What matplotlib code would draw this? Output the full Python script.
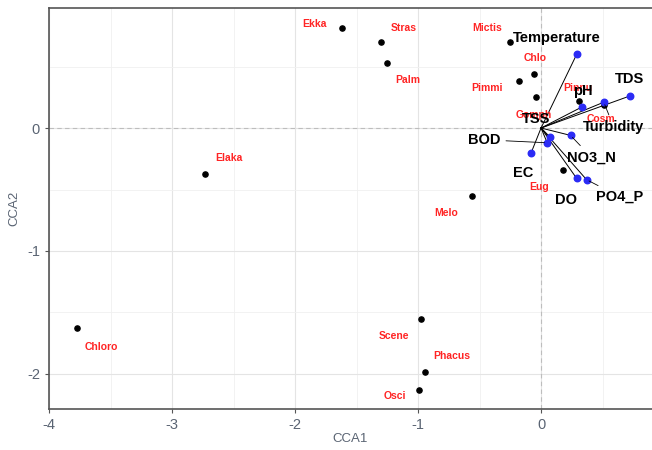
import matplotlib.pyplot as plt
from matplotlib.ticker import MultipleLocator

plt.rcParams['font.family'] = ['Liberation Sans', 'DejaVu Sans']
plt.rcParams['axes.unicode_minus'] = False

# species scores (black points, red labels)
species = ['Ekka', 'Stras', 'Palm', 'Mictis', 'Chlo', 'Pimmi', 'Gomph', 'Pinnu',
           'Cosm', 'Elaka', 'Melo', 'Eug', 'Chloro', 'Scene', 'Phacus', 'Osci']
sp_x = [-1.62, -1.30, -1.25, -0.25, -0.06, -0.18, -0.04, 0.31,
        0.51, -2.73, -0.56, 0.18, -3.77, -0.98, -0.94, -0.99]
sp_y = [0.81, 0.70, 0.53, 0.70, 0.44, 0.38, 0.25, 0.22,
        0.19, -0.37, -0.55, -0.34, -1.63, -1.55, -1.98, -2.13]

# environmental vectors (blue tips)
env = ['Temperature', 'TDS', 'Turbidity', 'pH', 'TSS', 'NO3_N', 'BOD', 'EC', 'DO', 'PO4_P']
env_x = [0.29, 0.72, 0.51, 0.33, 0.07, 0.24, 0.05, -0.08, 0.29, 0.37]
env_y = [0.60, 0.26, 0.21, 0.17, -0.07, -0.06, -0.12, -0.20, -0.41, -0.42]

# label offsets in pixels (repel-style placement)
sp_off = [(-27, 4), (23, 14), (20, -17), (-23, 14), (1, 16), (-32, -7), (-2, -18), (-1, 13),
          (-3, -14), (24, 16), (-26, -17), (-24, -17), (24, -19), (-27, -17), (26, 16), (-24, -6)]
env_off = [(-20, 16), (0, 17), (10, -25), (1, 16), (-14, 18), (21, -22), (-63, 3), (-8, -20),
           (-11, -22), (33, -17)]
env_seg = [False, False, True, False, False, True, True, False, False, True]

fig = plt.figure(figsize=(6.52, 4.5), dpi=100)
ax = fig.add_axes([0.0752, 0.0911, 0.9248, 0.8911])

ax.set_xlim(-4.0, 0.902)
ax.set_ylim(-2.285, 0.976)
ax.xaxis.set_major_locator(MultipleLocator(1))
ax.yaxis.set_major_locator(MultipleLocator(1))
ax.xaxis.set_minor_locator(MultipleLocator(0.5))
ax.yaxis.set_minor_locator(MultipleLocator(0.5))
ax.grid(which='major', color='#e4e4e4', lw=0.8)
ax.grid(which='minor', color='#f0f0f0', lw=0.6)
ax.set_axisbelow(True)

ax.axhline(0, color='#bdbdbd', ls=(0, (4, 3)), lw=0.8, zorder=1)
ax.axvline(0, color='#bdbdbd', ls=(0, (4, 3)), lw=0.8, zorder=1)

ax.scatter(sp_x, sp_y, s=14, color='black', zorder=3)

for x, y in zip(env_x, env_y):
    ax.plot([0, x], [0, y], color='black', lw=0.7, zorder=4)
ax.scatter(env_x, env_y, s=22, color='#2b2bf5', zorder=5)

for name, x, y, off in zip(species, sp_x, sp_y, sp_off):
    ax.annotate(name, (x, y), xytext=off, textcoords='offset pixels',
                ha='center', va='center', color='#ff2424', fontsize=7.5,
                fontweight='bold', zorder=6)

for name, x, y, off, seg in zip(env, env_x, env_y, env_off, env_seg):
    props = dict(arrowstyle='-', color='black', lw=0.6, shrinkA=2, shrinkB=2) if seg else None
    ax.annotate(name, (x, y), xytext=off, textcoords='offset pixels',
                ha='center', va='center', color='black', fontsize=10.5,
                fontweight='bold', zorder=7, arrowprops=props)

for side in ['left', 'bottom', 'top']:
    ax.spines[side].set_color('#555555')
    ax.spines[side].set_linewidth(1.2)
ax.spines['right'].set_visible(False)

ax.tick_params(which='major', colors='#555555', labelsize=10.5, length=3)
ax.tick_params(which='minor', length=0)
for lab in ax.get_xticklabels() + ax.get_yticklabels():
    lab.set_color('#5a6473')

ax.set_xlabel('CCA1', color='#5a6473', fontsize=9.5, labelpad=1)
ax.set_ylabel('CCA2', color='#5a6473', fontsize=9.5, labelpad=5)

plt.savefig('out.png', dpi=100)
